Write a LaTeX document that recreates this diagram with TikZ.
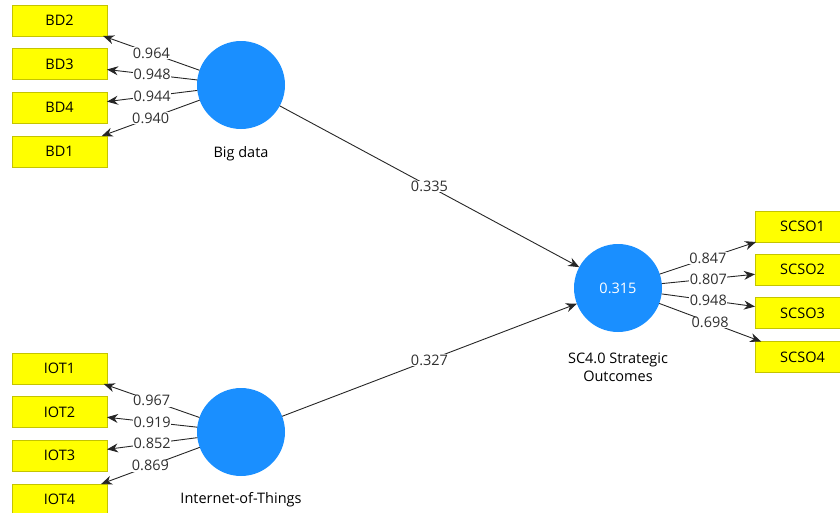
\documentclass[tikz,border=0pt]{standalone}
\usepackage{fontspec}
\setmainfont{Open Sans}
\usetikzlibrary{arrows.meta}
\definecolor{lvblue}{HTML}{1A8FFF}
\definecolor{mvfill}{HTML}{FFFF00}
\definecolor{mvline}{HTML}{C4C400}
\definecolor{coeftext}{HTML}{303030}

\begin{document}
\begin{tikzpicture}[x=1pt,y=-1pt,font=\fontsize{14.5}{17}\selectfont,
ind/.style={draw=mvline, fill=mvfill, minimum width=95pt, minimum height=31pt, inner sep=0pt, outer sep=0pt},
lv/.style={circle, fill=lvblue, minimum size=88pt, inner sep=0pt, outer sep=0pt, text=white},
load/.style={draw=black!85, line width=0.9pt, -{Stealth[length=11pt,width=9pt]}},
coef/.style={fill=white, inner sep=0.5pt, text=coeftext}]
\useasboundingbox (0,0) rectangle (840,512);
% latent variables
\node [lv] (bd) at (241,85){};
\node [lv] (iot) at (241,432){};
\node [lv] (sc) at (618,288){0.315};
\node at (241,154) {Big data};
\node at (241,500) {Internet-of-Things};
\node [align=center] at (618,367) {SC4.0 Strategic\\[1pt]Outcomes};
% indicators
\node [ind] (bd2) at (59.5,20.5){BD2};
\node [ind] (bd3) at (59.5,64){BD3};
\node [ind] (bd4) at (59.5,107.5){BD4};
\node [ind] (bd1) at (59.5,151.5){BD1};
\node [ind] (iot1) at (59.5,368.5){IOT1};
\node [ind] (iot2) at (59.5,412){IOT2};
\node [ind] (iot3) at (59.5,455.5){IOT3};
\node [ind] (iot4) at (59.5,499.5){IOT4};
\node [ind] (scso1) at (802.5,226.5){SCSO1};
\node [ind] (scso2) at (802.5,269.5){SCSO2};
\node [ind] (scso3) at (802.5,313){SCSO3};
\node [ind] (scso4) at (802.5,357){SCSO4};
% loadings
\draw [load] (bd) -- node[coef]{0.964} (bd2);
\draw [load] (bd) -- node[coef]{0.948} (bd3);
\draw [load] (bd) -- node[coef]{0.944} (bd4);
\draw [load] (bd) -- node[coef]{0.940} (bd1);
\draw [load] (iot) -- node[coef]{0.967} (iot1);
\draw [load] (iot) -- node[coef]{0.919} (iot2);
\draw [load] (iot) -- node[coef]{0.852} (iot3);
\draw [load] (iot) -- node[coef]{0.869} (iot4);
\draw [load] (sc) -- node[coef]{0.847} (scso1);
\draw [load] (sc) -- node[coef]{0.807} (scso2);
\draw [load] (sc) -- node[coef]{0.948} (scso3);
\draw [load] (sc) -- node[coef]{0.698} (scso4);
% paths
\draw [load] (bd) -- node[coef]{0.335} (sc);
\draw [load] (iot) -- node[coef]{0.327} (sc);
\end{tikzpicture}
\end{document}
